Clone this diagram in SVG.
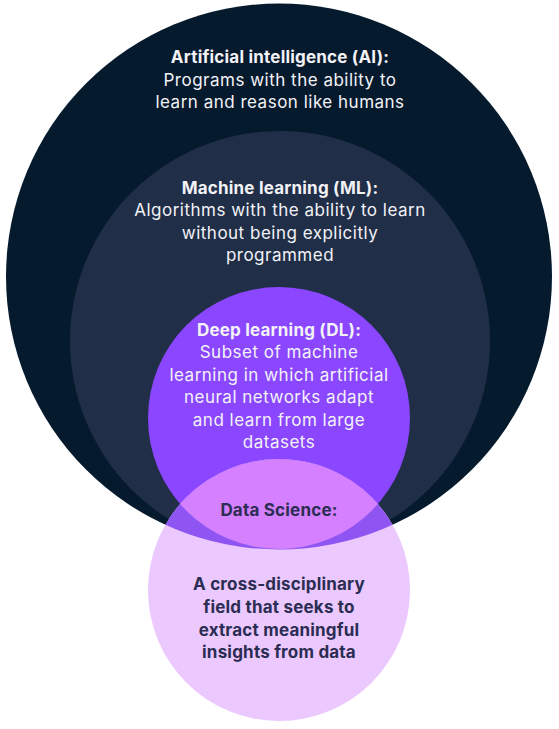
<svg xmlns="http://www.w3.org/2000/svg" width="559" height="729" viewBox="0 0 559 729">
<style>
text{font-family:Inter,"Liberation Sans",sans-serif;font-size:17px;text-anchor:middle;letter-spacing:0.5px}
.w{fill:#F2F2F7}
.d{fill:#2B2D52}
.b{font-weight:700;letter-spacing:0.2px}
</style>
<defs>
<clipPath id="dsclip"><circle cx="279" cy="590" r="131"/></clipPath>
</defs>
<rect width="559" height="729" fill="#FFFFFF"/>
<g id="ai">
<circle cx="279" cy="276.5" r="273" fill="#061A2E"/>
</g>
<g id="ml">
<circle cx="280" cy="341" r="210" fill="#202E47"/>
</g>
<g id="dl">
<circle cx="279" cy="418" r="131" fill="#8B47FF"/>
</g>
<g id="ds">
<circle cx="279" cy="590" r="131" fill="#EBC8FE"/>
<g clip-path="url(#dsclip)">
<circle cx="279" cy="276.5" r="273" fill="#8F55F2"/>
<circle cx="279" cy="418" r="131" fill="#D480FF"/>
</g>
</g>
<g id="connectors"></g>
<g id="ai-text">
<text class="w b" x="280" y="63">Artificial intelligence (AI):</text>
<text class="w" x="280" y="86">Programs with the ability to</text>
<text class="w" x="280" y="108">learn and reason like humans</text>
</g>
<g id="ml-text">
<text class="w b" x="280" y="194">Machine learning (ML):</text>
<text class="w" x="280" y="216">Algorithms with the ability to learn</text>
<text class="w" x="280" y="239">without being explicitly</text>
<text class="w" x="280" y="261">programmed</text>
</g>
<g id="dl-text">
<text class="w b" x="279" y="336">Deep learning (DL):</text>
<text class="w" x="279" y="358">Subset of machine</text>
<text class="w" x="279" y="381">learning in which artificial</text>
<text class="w" x="279" y="403">neural networks adapt</text>
<text class="w" x="279" y="426">and learn from large</text>
<text class="w" x="279" y="448">datasets</text>
</g>
<g id="ds-text">
<text class="d b" x="279" y="516">Data Science:</text>
<text class="d b" x="279" y="590">A cross-disciplinary</text>
<text class="d b" x="279" y="613">field that seeks to</text>
<text class="d b" x="279" y="636">extract meaningful</text>
<text class="d b" x="279" y="658">insights from data</text>
</g>
</svg>
